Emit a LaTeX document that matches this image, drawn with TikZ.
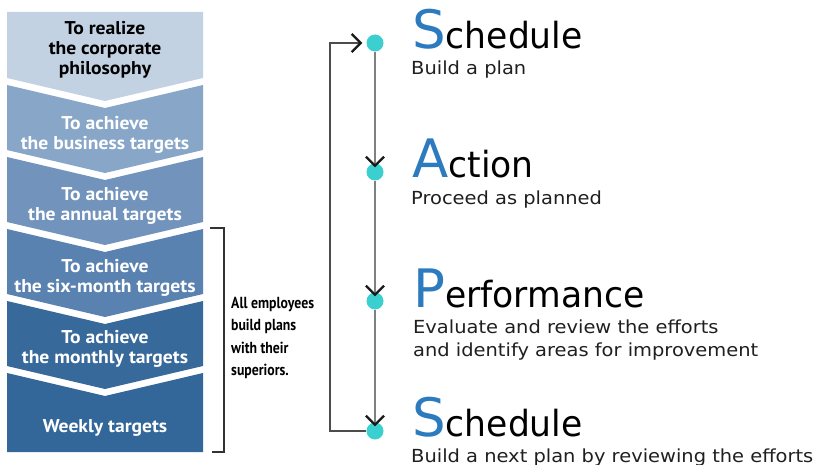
\documentclass[tikz,border=0pt]{standalone}
\usepackage{fontspec}
\usetikzlibrary{arrows.meta}
\setmainfont{DejaVu Sans}
\newfontfamily\subfont[FakeStretch=1.08]{DejaVu Sans}
\newfontfamily\headfont[FakeStretch=0.96]{DejaVu Sans}
\newfontfamily\lfont[FakeStretch=1.06]{PT Sans}
\newfontfamily\condfont[FakeStretch=0.86]{PT Sans}
\definecolor{cA}{HTML}{C3D2E2}
\definecolor{cB}{HTML}{88A6C8}
\definecolor{cC}{HTML}{7294BC}
\definecolor{cD}{HTML}{5A82B0}
\definecolor{cE}{HTML}{38699B}
\definecolor{cF}{HTML}{336699}
\definecolor{sblue}{HTML}{2C7BBE}
\definecolor{teal}{HTML}{3CCFD0}
\tikzset{
  ltxt/.style={font=\lfont\bfseries\fontsize{18.5}{19.8}\selectfont, align=center, text=white},
  dot/.style={circle, fill=teal, minimum size=17pt, inner sep=0pt},
  flow/.style={draw=black!50, line width=1.9pt, -{Straight Barb[length=9pt,width=18pt,line width=2.3pt,color=black!90]}},
  loop/.style={draw=black!70, line width=1.9pt, -{Straight Barb[length=9pt,width=18pt,line width=2.3pt,color=black!90]}},
  head/.style={anchor=base west, inner sep=0pt},
  sub/.style={anchor=base west, inner sep=0pt, font=\subfont\fontsize{18}{22.5}\selectfont, align=left, text=black!88},
}
\newcommand{\bigh}[2]{{\color{sblue}\fontsize{53}{53}\selectfont #1}{\headfont\fontsize{36}{36}\selectfont #2}}
\begin{document}
\begin{tikzpicture}[x=1pt,y=-1pt]
\useasboundingbox (0,0) rectangle (822,465);
% chevron column
\fill[cA] (7,12) -- (203,12) -- (203,78) -- (105,101) -- (7,78) -- cycle;
\fill[cB] (7,85) -- (105,108) -- (203,85) -- (203,150) -- (105,173) -- (7,150) -- cycle;
\fill[cC] (7,157) -- (105,180) -- (203,157) -- (203,222) -- (105,245) -- (7,222) -- cycle;
\fill[cD] (7,229) -- (105,252) -- (203,229) -- (203,294) -- (105,317) -- (7,294) -- cycle;
\fill[cE] (7,301) -- (105,324) -- (203,301) -- (203,366) -- (105,389) -- (7,366) -- cycle;
\fill[cF] (7,373) -- (105,396) -- (203,373) -- (203,452) -- (7,452) -- cycle;
\node[ltxt, text=black] (t1) at (105,50) {To realize\\the corporate\\philosophy};
\node[ltxt] (t2) at (105,134.5) {To achieve\\the business targets};
\node[ltxt] (t3) at (105,205.5) {To achieve\\the annual targets};
\node[ltxt] (t4) at (105,277.5) {To achieve\\the six-month targets};
\node[ltxt] (t5) at (105,349) {To achieve\\the monthly targets};
\node[ltxt] (t6) at (105,428) {Weekly targets};
% bracket
\coordinate (b1) at (210,228);
\coordinate (b2) at (224,228);
\coordinate (b3) at (224,452);
\coordinate (b4) at (212,452);
\draw[black!80, line width=1.5pt] (b1) -- (b2) -- (b3) -- (b4);
\node[anchor=north west, inner sep=0pt, align=left, font=\condfont\bfseries\fontsize{16}{22.3}\selectfont] (emp) at (231,297) {All employees\\build plans\\with their\\superiors.};
% dots
\node[dot] (d1) at (375,43) {};
\node[dot] (d2) at (375,172) {};
\node[dot] (d3) at (375,301) {};
\node[dot] (d4) at (375,431) {};
\draw[flow] (d1) -- ([yshift=-4pt]d2.north);
\draw[flow] (d2) -- ([yshift=-4pt]d3.north);
\draw[flow] (d3) -- ([yshift=-4pt]d4.north);
\coordinate (l1) at (330,431);
\coordinate (l2) at (330,43);
\draw[loop] (d4.west) -- (l1) -- (l2) -- ([xshift=-4pt]d1.west);
% headings
\node[head] (h1) at (412,49) {\bigh{S}{chedule}};
\node[sub] (s1) at (411,75) {Build a plan};
\node[head] (h2) at (412,178) {\bigh{A}{ction}};
\node[sub] (s2) at (411,205) {Proceed as planned};
\node[head] (h3) at (413,307) {\bigh{P}{erformance}};
\node[sub] (s3) at (413,356) {Evaluate and review the efforts\\and identify areas for improvement};
\node[head] (h4) at (412,436) {\bigh{S}{chedule}};
\node[sub] (s4) at (411,462) {Build a next plan by reviewing the efforts};
\end{tikzpicture}
\end{document}
